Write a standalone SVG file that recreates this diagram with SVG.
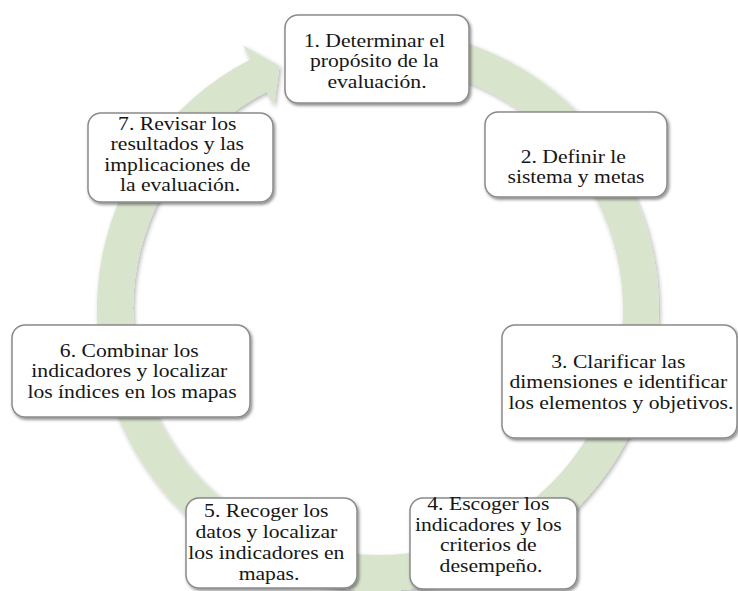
<svg xmlns="http://www.w3.org/2000/svg" width="738" height="591" viewBox="0 0 738 591">
  <defs>
    <filter id="shadow" x="-10%" y="-10%" width="125%" height="130%">
      <feDropShadow dx="1.5" dy="2" stdDeviation="1.5" flood-color="#000" flood-opacity="0.45"/>
    </filter>
    <filter id="ringShadow" x="-5%" y="-5%" width="112%" height="112%">
      <feDropShadow dx="1.5" dy="2" stdDeviation="2" flood-color="#000" flood-opacity="0.3"/>
    </filter>
  </defs>
  <style>
    .box { fill: #ffffff; stroke: #8a8a8a; stroke-width: 1.5; filter: url(#shadow); }
    .lbl { font-family: "Liberation Serif", "Times New Roman", serif; font-size: 19px; fill: #161616; text-anchor: middle; }
    .ring { fill: #d9e4cd; filter: url(#ringShadow); }
  </style>

  <rect width="738" height="591" fill="#ffffff"/>

  <!-- circular arrow running clockwise behind the steps -->
  <g id="connectors">
    <path class="ring" d="M378 29 A281 281 0 1 1 250.4 59.6 L243.2 45.4 L279.5 66.1 L274 106 L266.8 91.7 A245 245 0 1 0 378 65 Z"/>
  </g>

  <g id="node1">
    <rect class="box" x="285" y="15" width="184" height="88" rx="13"/>
    <text class="lbl" transform="matrix(1.14 0 0 1 377 0)">
      <tspan x="0" y="47">1. Determinar el</tspan>
      <tspan x="0" y="67.5">propósito de la</tspan>
      <tspan x="0" y="88">evaluación.</tspan>
    </text>
  </g>

  <g id="node2">
    <rect class="box" x="485" y="112" width="182" height="85" rx="13"/>
    <text class="lbl" transform="matrix(1.14 0 0 1 576 0)">
      <tspan x="0" y="163">2. Definir le</tspan>
      <tspan x="0" y="183">sistema y metas</tspan>
    </text>
  </g>

  <g id="node3">
    <rect class="box" x="502" y="325" width="235" height="113" rx="13"/>
    <text class="lbl" transform="matrix(1.14 0 0 1 621 0)">
      <tspan x="0" y="368">3. Clarificar las</tspan>
      <tspan x="0" y="388.5">dimensiones e identificar</tspan>
      <tspan x="0" y="409">los elementos y objetivos.</tspan>
    </text>
  </g>

  <g id="node4">
    <rect class="box" x="410" y="498" width="167" height="91" rx="13"/>
    <text class="lbl" transform="matrix(1.14 0 0 1 491 0)">
      <tspan x="0" y="510.5">4. Escoger los</tspan>
      <tspan x="0" y="531">indicadores y los</tspan>
      <tspan x="0" y="551.5">criterios de</tspan>
      <tspan x="0" y="572">desempeño.</tspan>
    </text>
  </g>

  <g id="node5">
    <rect class="box" x="186" y="498" width="171" height="90" rx="13"/>
    <text class="lbl" transform="matrix(1.14 0 0 1 269 0)">
      <tspan x="0" y="517">5. Recoger los</tspan>
      <tspan x="0" y="538">datos y localizar</tspan>
      <tspan x="0" y="559">los indicadores en</tspan>
      <tspan x="0" y="580">mapas.</tspan>
    </text>
  </g>

  <g id="node6">
    <rect class="box" x="12" y="325" width="238" height="92" rx="13"/>
    <text class="lbl" transform="matrix(1.14 0 0 1 132 0)">
      <tspan x="0" y="357">6. Combinar los</tspan>
      <tspan x="0" y="377.5">indicadores y localizar</tspan>
      <tspan x="0" y="398">los índices en los mapas</tspan>
    </text>
  </g>

  <g id="node7">
    <rect class="box" x="88" y="113" width="185" height="89" rx="13"/>
    <text class="lbl" transform="matrix(1.14 0 0 1 180 0)">
      <tspan x="0" y="130">7. Revisar los</tspan>
      <tspan x="0" y="150.5">resultados y las</tspan>
      <tspan x="0" y="171">implicaciones de</tspan>
      <tspan x="0" y="191.5">la evaluación.</tspan>
    </text>
  </g>
</svg>
